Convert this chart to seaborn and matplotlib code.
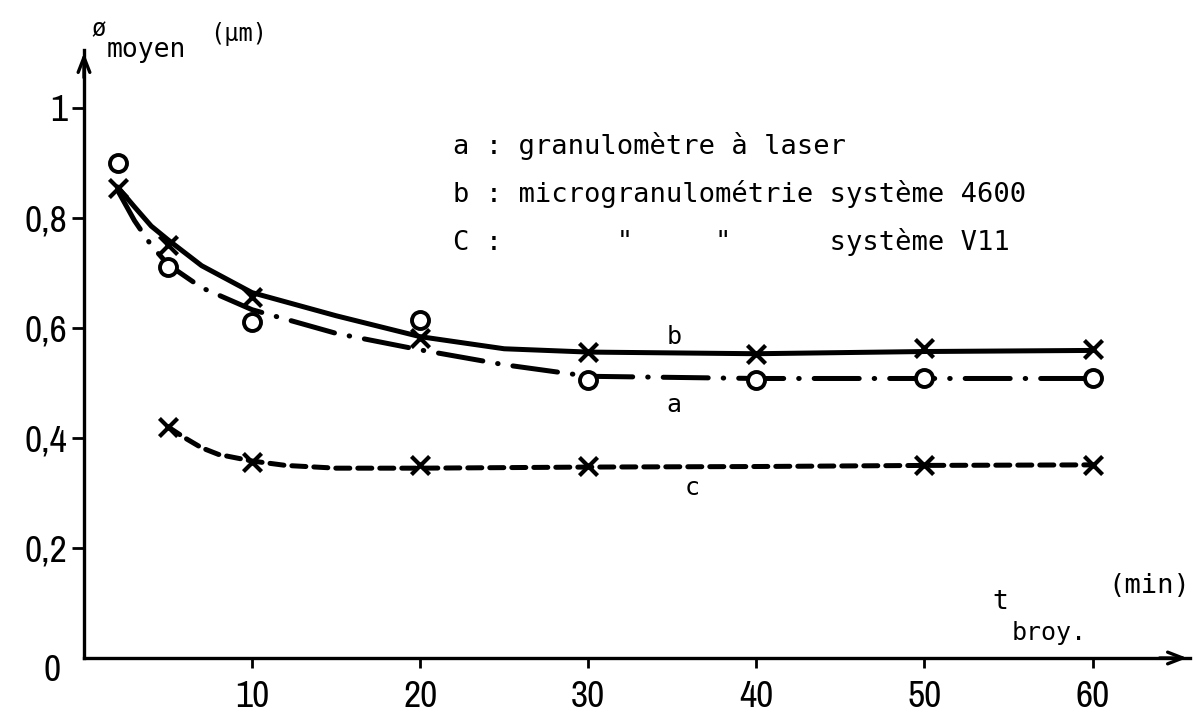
import matplotlib
matplotlib.use("Agg")
import matplotlib.pyplot as plt
import matplotlib.font_manager as fm
import seaborn as sns

t_a = [2, 5, 10, 20, 30, 40, 50, 60]
phi_a = [0.90, 0.71, 0.61, 0.615, 0.505, 0.505, 0.509, 0.509]
t_b = [2, 5, 10, 20, 30, 40, 50, 60]
phi_b = [0.855, 0.75, 0.656, 0.582, 0.556, 0.553, 0.564, 0.562]
t_c = [5, 10, 20, 30, 50, 60]
phi_c = [0.42, 0.356, 0.351, 0.349, 0.351, 0.351]

# ---- hand-drawn fitted curves ----
curve_a_t = [2, 3, 4, 5, 7, 10, 15, 20, 25, 30, 40, 50, 60]
curve_a_phi = [0.85, 0.795, 0.75, 0.715, 0.673, 0.633, 0.59, 0.56, 0.533, 0.512, 0.508, 0.508, 0.508]
curve_b_t = [2, 3, 4, 5, 7, 10, 15, 20, 25, 30, 40, 50, 60]
curve_b_phi = [0.856, 0.82, 0.785, 0.76, 0.713, 0.664, 0.622, 0.584, 0.562, 0.556, 0.553, 0.557, 0.559]
curve_c_t = [5, 6, 7, 8, 10, 12, 15, 20, 30, 40, 50, 60]
curve_c_phi = [0.42, 0.40, 0.382, 0.37, 0.358, 0.35, 0.345, 0.345, 0.347, 0.348, 0.35, 0.351]

x_ticks = [10, 20, 30, 40, 50, 60]
x_ticklabels = ["10", "20", "30", "40", "50", "60"]
y_ticks = [0.2, 0.4, 0.6, 0.8, 1.0]
y_ticklabels = ["0,2", "0,4", "0,6", "0,8", "1"]

legend_lines = [
    "a : granulomètre à laser",
    "b : microgranulométrie système 4600",
    'C :       "     "      système V11',
]
curve_names = ["a", "b", "c"]

sns.set_theme(style="white")
plt.rcParams["font.family"] = ["DejaVu Sans"]
plt.rcParams["text.color"] = "black"
plt.rcParams["xtick.color"] = "black"
plt.rcParams["ytick.color"] = "black"
MONO = ["DejaVu Sans Mono", "DejaVu Sans"]

# pick a narrow face for the stencil-like digits if one is installed
narrow_family = None
narrow_stretch = "normal"
for f in fm.fontManager.ttflist:
    if "Narrow" in f.name or "Condensed" in f.name:
        narrow_family = f.name
        break
if narrow_family is None:
    for f in fm.fontManager.ttflist:
        if f.name == "DejaVu Sans" and str(f.stretch) in ("condensed", "semi-condensed"):
            narrow_family = "DejaVu Sans"
            narrow_stretch = "condensed"
            break
if narrow_family is None:
    narrow_family = "DejaVu Sans"
    num_size = 24
else:
    num_size = 27
NARROW = [narrow_family, "DejaVu Sans"]

W, H = 1193, 715
fig = plt.figure(figsize=(W / 100, H / 100), dpi=100)
fig.patch.set_facecolor("white")
ax = fig.add_axes([84 / W, 57 / H, 1106 / W, 608 / H])
ax.set_facecolor("white")
ax.set_xlim(0, 65.8)
ax.set_ylim(0, 1.105)

for s in ["top", "right"]:
    ax.spines[s].set_visible(False)
for s in ["left", "bottom"]:
    ax.spines[s].set_linewidth(2.4)
    ax.spines[s].set_color("black")

ax.set_xticks(x_ticks)
ax.set_xticklabels(x_ticklabels)
ax.set_yticks(y_ticks)
ax.set_yticklabels(y_ticklabels)
ax.tick_params(axis="x", direction="out", length=7, width=2, pad=9,
               labelsize=num_size, colors="black", bottom=True)
ax.tick_params(axis="y", direction="out", length=9, width=2, pad=3,
               labelsize=num_size, colors="black", left=True)
for lab in ax.get_xticklabels() + ax.get_yticklabels():
    lab.set_fontfamily(NARROW)
    lab.set_fontstretch(narrow_stretch)

# fitted curves
sns.lineplot(x=curve_b_t, y=curve_b_phi, ax=ax, color="black", lw=3.6,
             solid_capstyle="round", zorder=3)
sns.lineplot(x=curve_a_t, y=curve_a_phi, ax=ax, color="black", lw=3.6,
             linestyle=(0, (9, 3, 0.1, 3)), dash_capstyle="round", zorder=3)
sns.lineplot(x=curve_c_t, y=curve_c_phi, ax=ax, color="black", lw=3.6,
             linestyle=(0, (2.8, 1.6)), dash_capstyle="round", zorder=3)

# markers
sns.scatterplot(x=t_b, y=phi_b, ax=ax, marker="x", s=170, color="black",
                linewidth=3, zorder=5)
sns.scatterplot(x=t_c, y=phi_c, ax=ax, marker="x", s=170, color="black",
                linewidth=3, zorder=5)
sns.scatterplot(x=t_a, y=phi_a, ax=ax, marker="o", s=150, color="white",
                edgecolor="black", linewidth=2.8, zorder=6)

# axis arrows
ax.annotate("", xy=(1.0, 0), xycoords="axes fraction", xytext=(0.97, 0),
            arrowprops=dict(arrowstyle="->,head_length=0.9,head_width=0.35",
                            lw=2.4, color="black"), annotation_clip=False)
ax.annotate("", xy=(0, 1.0), xycoords="axes fraction", xytext=(0, 0.95),
            arrowprops=dict(arrowstyle="->,head_length=0.9,head_width=0.35",
                            lw=2.4, color="black"), annotation_clip=False)

# zero label
ax.text(-1.9, -0.022, "0", fontsize=num_size, family=NARROW,
        fontstretch=narrow_stretch, ha="center", va="center", clip_on=False)

# curve labels
ax.text(35.1, 0.584, curve_names[1], fontsize=18, family=MONO, ha="center", va="center")
ax.text(35.1, 0.46, curve_names[0], fontsize=18, family=MONO, ha="center", va="center")
ax.text(36.2, 0.309, curve_names[2], fontsize=18, family=MONO, ha="center", va="center")


def fpx(x, y):
    return (x / W, 1 - y / H)


# legend text
for i, line in enumerate(legend_lines):
    fig.text(*fpx(453, 154 + 48 * i), line, fontsize=19.5, family=MONO,
             ha="left", va="baseline")

# y axis label
fig.text(*fpx(99, 29), "ø", fontsize=17, family=MONO, ha="center", va="center")
fig.text(*fpx(107, 57), "moyen", fontsize=19, family=MONO, ha="left", va="baseline")
fig.text(*fpx(210, 34), "(µm)", fontsize=17, family=MONO, ha="left", va="center")

# x axis label
fig.text(*fpx(992, 609), "t", fontsize=19, family=MONO, ha="left", va="baseline")
fig.text(*fpx(1012, 640), "broy.", fontsize=18, family=MONO, ha="left", va="baseline")
fig.text(*fpx(1108, 586), "(min)", fontsize=19.5, family=MONO, ha="left", va="center")

fig.savefig("out.png", dpi=100, facecolor="white")
